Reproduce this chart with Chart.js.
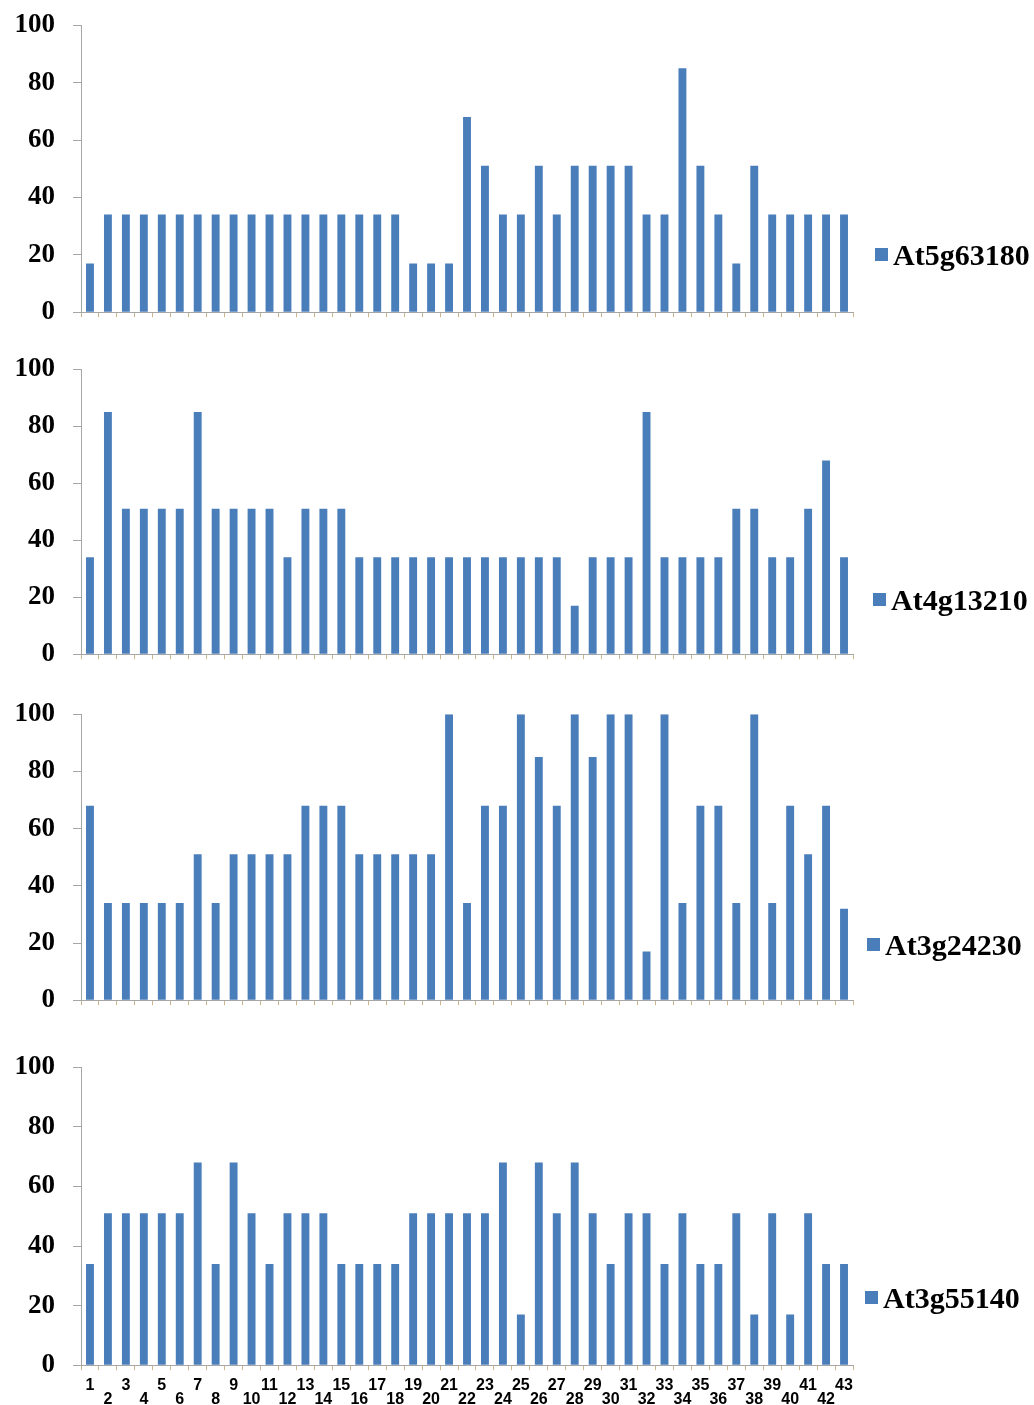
<!DOCTYPE html>
<html>
<head>
<meta charset="utf-8">
<script src="https://cdn.jsdelivr.net/npm/chart.js@4.4.1/dist/chart.umd.min.js"></script>
<style>
  html, body { margin: 0; padding: 0; background: #fff; }
  body { position: relative; width: 1034px; height: 1405px; overflow: hidden; }
  canvas { position: absolute; left: 0; }
  .key { position: absolute; width: 13px; height: 13px; background: #4a7ebb; }
  .name { position: absolute; font: bold 30px "Liberation Serif", "Times New Roman", serif; line-height: 30px; color: #000; white-space: nowrap; }
</style>
</head>
<body>
<script>
// sample numbers along the x axis
const CATEGORIES = ["1","2","3","4","5","6","7","8","9","10","11","12","13","14","15","16","17","18","19","20","21","22",
  "23","24","25","26","27","28","29","30","31","32","33","34","35","36","37","38","39","40","41","42","43"];

const SERIES_NAMES = ["At5g63180", "At4g13210", "At3g24230", "At3g55140"];

const AT5G63180 = [17,34,34,34,34,34,34,34,34,34,34,34,34,34,34,34,34,34,17,17,17,68,51,34,34,51,34,51,51,51,51,34,34,85,51,34,17,51,34,34,34,34,34];
const AT4G13210 = [34,85,51,51,51,51,85,51,51,51,51,34,51,51,51,34,34,34,34,34,34,34,34,34,34,34,34,17,34,34,34,85,34,34,34,34,51,51,34,34,51,68,34];
const AT3G24230 = [68,34,34,34,34,34,51,34,51,51,51,51,68,68,68,51,51,51,51,51,100,34,68,68,100,85,68,100,85,100,100,17,100,34,68,68,34,100,34,68,51,68,32];
const AT3G55140 = [34,51,51,51,51,51,68,34,68,51,34,51,51,51,34,34,34,34,51,51,51,51,51,68,17,68,51,68,51,34,51,51,34,51,34,34,51,17,51,17,51,34,34];

const Y_MIN = 0, Y_MAX = 100, Y_STEP = 20;

(function () {
  const BLUE = "#4a7ebb";
  const AXIS = "#a6a6a6";
  const TICK_X = "#cbb68e";
  const PLOT_LEFT = 81, PLOT_RIGHT = 853;

  // where each panel sits on the page (y of the 100 line, plot height, legend spot)
  const PANELS = [
    { data: AT5G63180, top: 25,   h: 287, xh: 10, labels: false, keyX: 875, base: 265 },
    { data: AT4G13210, top: 369,  h: 285, xh: 10, labels: false, keyX: 873, base: 610 },
    { data: AT3G24230, top: 714,  h: 286, xh: 10, labels: false, keyX: 867, base: 955 },
    { data: AT3G55140, top: 1067, h: 298, xh: 40, labels: true,  keyX: 865, base: 1308 },
  ];

  function legend(name, p) {
    const key = document.createElement("div");
    key.className = "key";
    key.style.left = p.keyX + "px";
    key.style.top = (p.base - 17) + "px";
    document.body.appendChild(key);
    const txt = document.createElement("div");
    txt.className = "name";
    txt.textContent = name;
    txt.style.left = (p.keyX + 18) + "px";
    txt.style.top = (p.base - 25) + "px";
    document.body.appendChild(txt);
  }

  function panel(p, name) {
    const el = document.createElement("canvas");
    el.width = 1034;
    el.height = p.h + 80;
    document.body.appendChild(el);

    const chart = new Chart(el, {
      type: "bar",
      data: {
        labels: CATEGORIES,
        datasets: [{ label: name, data: p.data, backgroundColor: BLUE, barPercentage: 0.44, categoryPercentage: 1 }],
      },
      options: {
        responsive: false, animation: false,
        layout: { padding: { top: 0, left: 0, right: 1034 - PLOT_RIGHT, bottom: 0 } },
        plugins: { legend: { display: false }, tooltip: { enabled: false } },
        scales: {
          x: {
            grid: { drawOnChartArea: false, drawTicks: true, tickLength: 5, color: TICK_X, offset: true },
            border: { color: AXIS, width: 1 },
            ticks: {
              display: p.labels, autoSkip: false, maxRotation: 0, minRotation: 0, padding: 8, color: "#000",
              font: { family: "Liberation Sans", weight: "bold", size: 16, lineHeight: 0.88 },
              // odd numbers on the upper row, even numbers on the lower row
              callback: (v, i) => (i % 2 === 0 ? [CATEGORIES[i], ""] : ["", CATEGORIES[i]]),
            },
            afterFit: (s) => { s.height = p.xh; },
          },
          y: {
            min: Y_MIN, max: Y_MAX,
            grid: { drawOnChartArea: false, tickLength: 8, color: AXIS },
            border: { color: AXIS, width: 1 },
            ticks: { stepSize: Y_STEP, padding: 18, color: "#000", font: { family: "Liberation Serif", weight: "bold", size: 27 } },
            afterFit: (s) => { s.width = PLOT_LEFT; },
          },
        },
      },
    });

    // trim the bottom padding until the plot is exactly p.h tall, then place the canvas
    for (let k = 0; k < 4; k++) {
      const a = chart.chartArea;
      const extra = (a.bottom - a.top) - p.h;
      if (Math.abs(extra) < 0.5) break;
      const pad = chart.options.layout.padding;
      chart.options.layout.padding = { top: 0, left: 0, right: 1034 - PLOT_RIGHT, bottom: (pad.bottom || 0) + extra };
      chart.update();
    }
    el.style.top = (p.top - chart.chartArea.top) + "px";
    legend(name, p);
  }

  PANELS.forEach((p, i) => panel(p, SERIES_NAMES[i]));
})();
</script>
</body>
</html>
